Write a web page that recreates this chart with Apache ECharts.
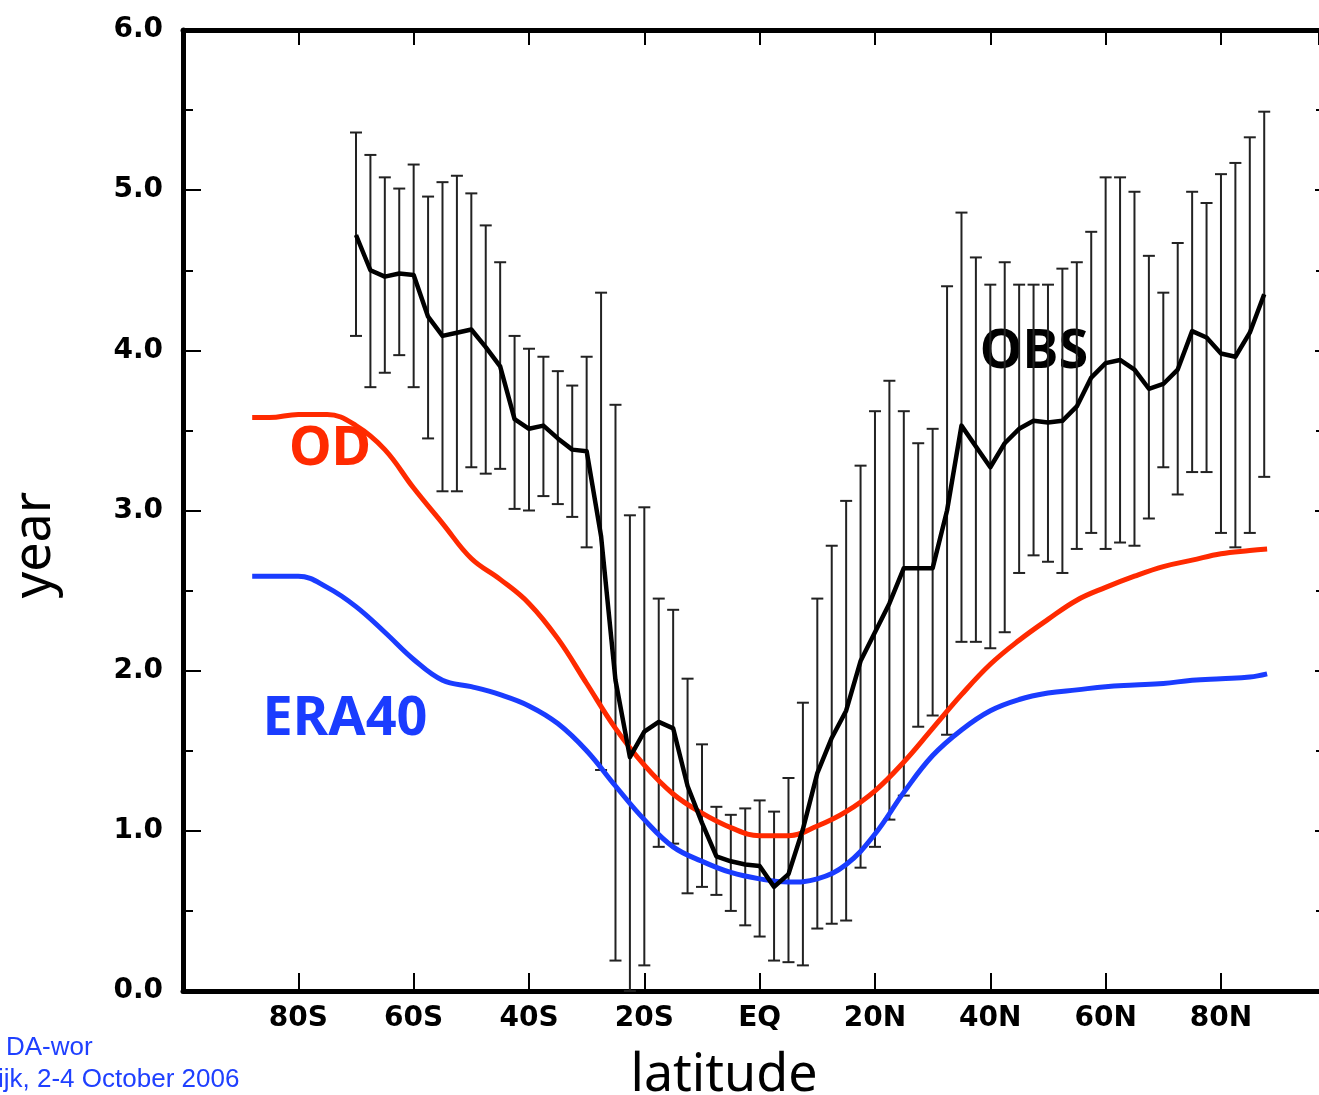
<!DOCTYPE html>
<html>
<head>
<meta charset="utf-8">
<script src="https://cdn.jsdelivr.net/npm/echarts@6/dist/echarts.min.js"></script>
<style>
  html, body { margin: 0; padding: 0; background: #fff; }
  #chart { width: 1319px; height: 1095px; }
</style>
</head>
<body>
<div id="chart"></div>
<script>
// OBS: latitude of each station band, mean value and error bar range (years)
var obsLat = [-70, -67.5, -65, -62.5, -60, -57.5, -55, -52.5, -50, -47.5, -45, -42.5, -40, -37.5,
  -35, -32.5, -30, -27.5, -25, -22.5, -20, -17.5, -15, -12.5, -10, -7.5, -5, -2.5, 0,
  2.5, 5, 7.5, 10, 12.5, 15, 17.5, 20, 22.5, 25, 27.5, 30, 32.5, 35, 37.5, 40, 42.5,
  45, 47.5, 50, 52.5, 55, 57.5, 60, 62.5, 65, 67.5, 70, 72.5, 75, 77.5, 80, 82.5, 85, 87.5];
var obsMean = [4.72, 4.50, 4.46, 4.48, 4.47, 4.21, 4.09, 4.11, 4.13, 4.02, 3.90, 3.57, 3.51, 3.53,
  3.45, 3.38, 3.37, 2.84, 1.94, 1.46, 1.62, 1.68, 1.64, 1.28, 1.05, 0.84, 0.81, 0.79, 0.78,
  0.65, 0.73, 1.01, 1.36, 1.58, 1.75, 2.06, 2.24, 2.42, 2.64, 2.64, 2.64, 3.00, 3.53, 3.40, 3.27, 3.42,
  3.51, 3.56, 3.55, 3.56, 3.65, 3.83, 3.92, 3.94, 3.88, 3.76, 3.79, 3.88, 4.12, 4.08, 3.98, 3.96, 4.11, 4.35];
var obsHigh = [5.36, 5.22, 5.08, 5.01, 5.16, 4.96, 5.05, 5.09, 4.98, 4.78, 4.55, 4.09, 4.01, 3.96,
  3.87, 3.78, 3.96, 4.36, 3.66, 2.97, 3.02, 2.45, 2.38, 1.95, 1.54, 1.15, 1.10, 1.14, 1.19,
  1.12, 1.33, 1.80, 2.45, 2.78, 3.06, 3.28, 3.62, 3.81, 3.62, 3.42, 3.51, 4.40, 4.86, 4.58, 4.41, 4.55,
  4.41, 4.41, 4.41, 4.51, 4.55, 4.74, 5.08, 5.08, 4.99, 4.59, 4.36, 4.67, 4.99, 4.92, 5.10, 5.17, 5.33, 5.49];
var obsLow = [4.09, 3.77, 3.86, 3.97, 3.77, 3.45, 3.12, 3.12, 3.27, 3.23, 3.26, 3.01, 3.00, 3.09,
  3.04, 2.96, 2.77, 1.38, 0.19, 0.00, 0.16, 0.90, 0.92, 0.61, 0.65, 0.60, 0.50, 0.41, 0.34,
  0.19, 0.18, 0.16, 0.39, 0.42, 0.44, 0.77, 0.90, 1.07, 1.22, 1.65, 1.72, 1.60, 2.18, 2.18, 2.14, 2.24,
  2.61, 2.72, 2.68, 2.61, 2.76, 2.86, 2.76, 2.80, 2.78, 2.95, 3.27, 3.10, 3.24, 3.24, 2.86, 2.77, 2.86, 3.21];

// model curves
var curveLat = [-88, -85, -80, -75, -70, -65, -60, -55, -50, -45, -40, -35, -30, -25, -20, -15, -10, -5, 0,
  5, 10, 15, 20, 25, 30, 35, 40, 45, 50, 55, 60, 65, 70, 75, 80, 85, 88];
var odVals = [3.58, 3.58, 3.60, 3.60, 3.53, 3.38, 3.14, 2.92, 2.70, 2.57, 2.42, 2.20, 1.92, 1.64, 1.41, 1.23, 1.11, 1.02, 0.97,
  0.97, 1.03, 1.12, 1.25, 1.43, 1.64, 1.85, 2.04, 2.19, 2.32, 2.44, 2.52, 2.59, 2.65, 2.69, 2.73, 2.75, 2.76];
var eraVals = [2.59, 2.59, 2.59, 2.52, 2.40, 2.24, 2.07, 1.94, 1.90, 1.85, 1.78, 1.67, 1.50, 1.28, 1.07, 0.90, 0.81, 0.74, 0.70,
  0.68, 0.70, 0.79, 0.98, 1.24, 1.47, 1.63, 1.75, 1.82, 1.86, 1.88, 1.90, 1.91, 1.92, 1.94, 1.95, 1.96, 1.98];

var yTicks = ['0.0', '1.0', '2.0', '3.0', '4.0', '5.0', '6.0'];

function pairs(xs, ys) {
  return xs.map(function (x, i) { return [x, ys[i]]; });
}
function latLabel(v) {
  if (v === 0) return 'EQ';
  return v < 0 ? (-v) + 'S' : v + 'N';
}

var red = '#ff2a00';
var blue = '#1a3cff';
var axisStyle = { color: '#000', width: 5 };
var tickStyle = { color: '#000', width: 2 };
var labelFont = { fontFamily: 'DejaVu Sans', fontWeight: 'bold', fontSize: 28, color: '#000' };

var myChart = echarts.init(document.getElementById('chart'));
var option = {
  animation: false,
  backgroundColor: '#fff',
  // the frame runs past the right edge of the picture: 97 deg sits at the image border
  grid: { left: 183, right: 0, top: 30, bottom: 104 },
  xAxis: [
    {
      type: 'value', min: -100, max: 97, interval: 20, position: 'bottom',
      axisLine: { show: true, onZero: false, lineStyle: axisStyle },
      axisTick: { show: true, inside: true, length: 18, lineStyle: tickStyle },
      axisLabel: Object.assign({ margin: 14, showMinLabel: false, showMaxLabel: false, formatter: latLabel }, labelFont),
      splitLine: { show: false }
    },
    {
      type: 'value', min: -100, max: 97, interval: 20, position: 'top',
      axisLine: { show: true, onZero: false, lineStyle: axisStyle },
      axisTick: { show: true, inside: true, length: 15, lineStyle: tickStyle },
      axisLabel: { show: false },
      splitLine: { show: false }
    }
  ],
  yAxis: [
    {
      type: 'value', min: 0, max: 6, interval: 1, position: 'left',
      axisLine: { show: true, onZero: false, lineStyle: axisStyle },
      axisTick: { show: true, inside: true, length: 18, lineStyle: tickStyle },
      minorTick: { show: true, splitNumber: 2, length: 10, lineStyle: tickStyle },
      axisLabel: Object.assign({ margin: 20, formatter: function (v) { return yTicks[v]; } }, labelFont),
      splitLine: { show: false }, minorSplitLine: { show: false }
    },
    {
      // only the tips of the right-hand ticks are inside the picture
      type: 'value', min: 0, max: 6, interval: 1, position: 'right',
      axisLine: { show: false, onZero: false },
      axisTick: { show: true, inside: true, length: 4, lineStyle: tickStyle },
      minorTick: { show: true, splitNumber: 2, length: 3, lineStyle: tickStyle },
      axisLabel: { show: false },
      splitLine: { show: false }, minorSplitLine: { show: false }
    }
  ],
  series: [
    {
      name: 'OBS range',
      type: 'custom',
      xAxisIndex: 0, yAxisIndex: 0,
      encode: { x: 0, y: [1, 2] },
      data: obsLat.map(function (l, i) { return [l, obsLow[i], obsHigh[i]]; }),
      renderItem: function (params, api) {
        var pLo = api.coord([api.value(0), api.value(1)]);
        var pHi = api.coord([api.value(0), api.value(2)]);
        var w = 6;
        var st = { stroke: '#222', lineWidth: 2 };
        return {
          type: 'group',
          children: [
            { type: 'line', shape: { x1: pHi[0], y1: pHi[1], x2: pLo[0], y2: pLo[1] }, style: st },
            { type: 'line', shape: { x1: pHi[0] - w, y1: pHi[1], x2: pHi[0] + w, y2: pHi[1] }, style: st },
            { type: 'line', shape: { x1: pLo[0] - w, y1: pLo[1], x2: pLo[0] + w, y2: pLo[1] }, style: st }
          ]
        };
      },
      z: 2
    },
    {
      name: 'OD', type: 'line', data: pairs(curveLat, odVals), smooth: 0.4,
      showSymbol: false, lineStyle: { color: red, width: 5 }, z: 3
    },
    {
      name: 'ERA40', type: 'line', data: pairs(curveLat, eraVals), smooth: 0.4,
      showSymbol: false, lineStyle: { color: blue, width: 5 }, z: 3
    },
    {
      name: 'OBS', type: 'line', data: pairs(obsLat, obsMean),
      showSymbol: false, lineStyle: { color: '#000', width: 4.5, join: 'round' }, z: 4
    }
  ],
  graphic: [
    { type: 'text', x: 1034, y: 353, style: { text: 'OBS', fill: '#000', font: 'bold 54px "Noto Sans"', align: 'center', verticalAlign: 'middle' } },
    { type: 'text', x: 330, y: 450, style: { text: 'OD', fill: red, font: 'bold 54px "Noto Sans"', align: 'center', verticalAlign: 'middle' } },
    { type: 'text', x: 345, y: 720, style: { text: 'ERA40', fill: blue, font: 'bold 54px "Noto Sans"', align: 'center', verticalAlign: 'middle' } },
    { type: 'text', x: 724, y: 1076, style: { text: 'latitude', fill: '#000', font: '52px "Noto Sans"', align: 'center', verticalAlign: 'middle' } },
    { type: 'text', x: 35, y: 545, rotation: Math.PI / 2, style: { text: 'year', fill: '#000', font: '52px "Noto Sans"', align: 'center', verticalAlign: 'middle' } },
    { type: 'text', x: 6, y: 1048, style: { text: 'DA-wor', fill: '#1f40ff', font: '26px "Liberation Sans"', align: 'left', verticalAlign: 'middle' } },
    { type: 'text', x: -2, y: 1080, style: { text: 'ijk, 2-4 October 2006', fill: '#1f40ff', font: '26px "Liberation Sans"', align: 'left', verticalAlign: 'middle' } }
  ]
};
myChart.setOption(option);
</script>
</body>
</html>
